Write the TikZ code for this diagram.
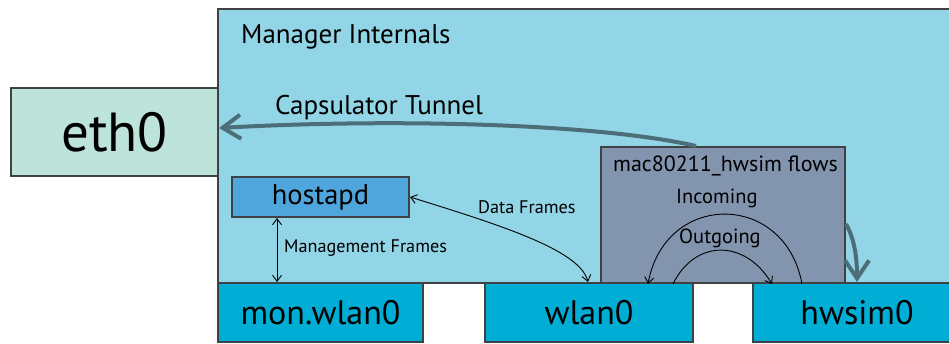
\documentclass[tikz,border=0pt]{standalone}
\usepackage{fontspec}
\setmainfont{PT Sans}
\usetikzlibrary{arrows.meta}
\definecolor{edge}{HTML}{3E4244}
\definecolor{mgrfill}{HTML}{92D5E6}
\definecolor{ethfill}{HTML}{BDE3DA}
\definecolor{apfill}{HTML}{4EA6DC}
\definecolor{iffill}{HTML}{00ADD4}
\definecolor{macfill}{HTML}{8394AF}
\definecolor{tunnel}{HTML}{4B6E78}
\begin{document}
\begin{tikzpicture}[x=1pt,y=-1pt,
  box/.style={draw=edge, line width=2pt, inner sep=0pt},
  iface/.style={box, fill=iffill, minimum height=59pt, font=\fontsize{34}{34}\selectfont},
  thinflow/.style={draw=black, line width=0.9pt, {Straight Barb[length=6pt,width=9pt]}-{Straight Barb[length=6pt,width=9pt]}},
  oneflow/.style={draw=black, line width=0.9pt, -{Straight Barb[length=6pt,width=9pt]}},
  bigflow/.style={draw=tunnel, line width=4pt, -{Straight Barb[length=18pt,width=24pt]}},
  lbl/.style={inner sep=0pt, anchor=base west}]
\useasboundingbox (0,0) rectangle (949,343);
\begin{scope}
\clip (0,0) rectangle (949,343);
% manager area and its contents
\node[box, fill=mgrfill, minimum width=742pt, minimum height=274pt] (mgr) at (589,146) {};
\node[lbl, font=\fontsize{27}{27}\selectfont] (mgrlbl) at (241,43) {Manager Internals};
\node[box, fill=ethfill, minimum width=207pt, minimum height=88pt, font=\fontsize{55}{55}\selectfont] (eth) at (114.5,132) {eth0};
\node[box, fill=apfill, minimum width=177pt, minimum height=40pt, font=\fontsize{28.5}{28.5}\selectfont] (ap) at (320.5,197) {hostapd};
\node[box, fill=macfill, minimum width=244pt, minimum height=136pt] (mac) at (723,215) {};
\node[lbl, font=\fontsize{22}{22}\selectfont] (maclbl) at (613,171) {mac80211\_hwsim flows};
% interfaces along the bottom
\node[iface, minimum width=205pt] (mon) at (320.5,312.5) {mon.wlan0};
\node[iface, minimum width=208pt] (wlan) at (589,312.5) {wlan0};
\node[iface, minimum width=208pt] (hw) at (857,312.5) {hwsim0};
% capsulator tunnel back to eth0
\draw[bigflow] ([xshift=-27pt]mac.north) .. controls +(-96,-22) and +(179,-10) .. ([yshift=4pt]eth.east);
\node[lbl, font=\fontsize{27}{27}\selectfont] (tunlbl) at (275,114) {Capsulator Tunnel};
\draw[bigflow] ([yshift=-9pt]mac.east) .. controls +(9,16) and +(0,-23) .. (hw.north);
% hostapd traffic
\draw[thinflow] ([xshift=-43.5pt]ap.south) -- ([xshift=-43.5pt]mon.north);
\node[lbl, font=\fontsize{18.2}{18.2}\selectfont] (mgmtlbl) at (284,252) {Management Frames};
\draw[thinflow] (ap.east) .. controls +(90,28) and +(-8,-32) .. ([xshift=-1pt]wlan.north);
\node[lbl, font=\fontsize{18.2}{18.2}\selectfont] (datalbl) at (478,213) {Data Frames};
% hwsim flows between wlan0 and hwsim0
\draw[oneflow] ([xshift=79pt]mac.south) .. controls +(-17,-93) and +(17,-93) .. ([xshift=-75pt]mac.south);
\node[lbl, font=\fontsize{20.5}{20.5}\selectfont] (inlbl) at (676,203) {Incoming};
\draw[oneflow] ([xshift=-50pt]mac.south) .. controls +(22,-45) and +(-27,-45) .. ([xshift=49pt]mac.south);
\node[lbl, font=\fontsize{20.5}{20.5}\selectfont] (outlbl) at (679,243) {Outgoing};
\end{scope}
\end{tikzpicture}
\end{document}
